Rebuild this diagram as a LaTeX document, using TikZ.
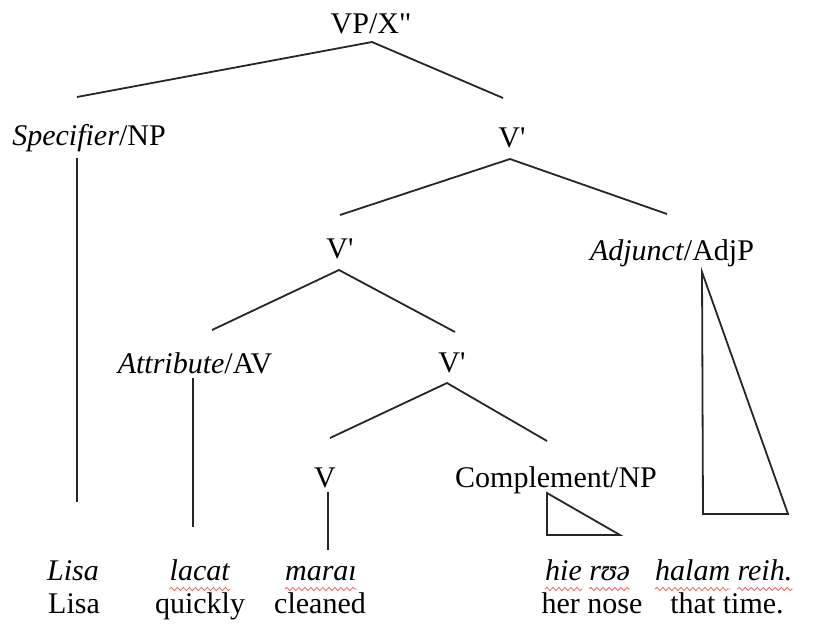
\documentclass[tikz,border=0pt]{standalone}
\usepackage{fontspec}
\newfontfamily\treefont{Liberation Serif}
\usetikzlibrary{positioning,decorations.pathmorphing}

\begin{document}
\begin{tikzpicture}[x=1pt, y=-1pt,
        every node/.style={font=\treefont\fontsize{30}{34}\selectfont, inner sep=0pt, anchor=base},
        branch/.style={line width=1.8pt, black!85},
        spell/.style={draw=red!65, line width=0.8pt, decorate,
            decoration={snake, amplitude=1.6pt, segment length=6pt}}]
        \useasboundingbox (0,0) rectangle (819,627);

        % Tree labels
        \node (vp) at (371,33) {VP/X"};
        \node (spec) at (89,145) {\textit{Specifier}/NP};
        \node (vbar1) at (512,147) {V'};
        \node (vbar2) at (340,258) {V'};
        \node (adj) at (672,260) {\textit{Adjunct}/AdjP};
        \node (attr) at (195,373) {\textit{Attribute}/AV};
        \node (vbar3) at (452,372) {V'};
        \node (v) at (325,487) {V};
        \node (compl) at (556,487) {Complement/NP};

        % Words, first line
        \node (lisa-it) at (73,580) {\textit{Lisa}};
        \node (lacat) at (200,580) {\textit{lacat}};
        \node (marai) at (321,580) {\textit{maraı}};
        \node[anchor=base west] (hie) at (545,580) {\textit{hie}};
        \node[anchor=base west] (rua) at ([xshift=7pt]hie.base east) {\textit{rʊə}};
        \node[anchor=base west] (halam) at (655,580) {\textit{halam}};
        \node[anchor=base west] (reih) at ([xshift=7pt]halam.base east) {\textit{reih.}};

        % Words, second line
        \node (lisa) at (74,613) {Lisa};
        \node (quickly) at (200,613) {quickly};
        \node (cleaned) at (320,613) {cleaned};
        \node (hernose) at (592,613) {her nose};
        \node (thattime) at (727,613) {that time.};

        % Branch points
        \coordinate (vp-b) at (372,42);
        \coordinate (spec-t) at (77,97);
        \coordinate (vbar1-t) at (503,98);
        \coordinate (spec-b) at (77,158);
        \coordinate (lisa-t) at (77,502);
        \coordinate (vbar1-b) at (510,159);
        \coordinate (vbar2-t) at (340,215);
        \coordinate (adj-t) at (667,214);
        \coordinate (vbar2-b) at (339,270);
        \coordinate (attr-t) at (212,330);
        \coordinate (vbar3-t) at (455,332);
        \coordinate (attr-b) at (193,378);
        \coordinate (lacat-t) at (193,527);
        \coordinate (vbar3-b) at (447,383);
        \coordinate (v-t) at (330,438);
        \coordinate (compl-t) at (547,441);
        \coordinate (v-b) at (328,492);
        \coordinate (marai-t) at (328,550);

        % Triangle corners
        \coordinate (adj-tip) at (702,272);
        \coordinate (adj-bl) at (703,514);
        \coordinate (adj-br) at (788,514);
        \coordinate (compl-tip) at (547,493);
        \coordinate (compl-bl) at (547,535);
        \coordinate (compl-br) at (620,535);

        % Branches
        \draw[branch] (spec-t) -- (vp-b) -- (vbar1-t);
        \draw[branch] (spec-b) -- (lisa-t);
        \draw[branch] (vbar2-t) -- (vbar1-b) -- (adj-t);
        \draw[branch] (attr-t) -- (vbar2-b) -- (vbar3-t);
        \draw[branch] (attr-b) -- (lacat-t);
        \draw[branch] (v-t) -- (vbar3-b) -- (compl-t);
        \draw[branch] (v-b) -- (marai-t);
        \draw[branch] (adj-tip) -- (adj-bl) -- (adj-br) -- cycle;
        \draw[branch] (compl-tip) -- (compl-bl) -- (compl-br) -- cycle;

        % Spelling marks
        \foreach \w in {lacat, marai, hie, rua, halam, reih}
            \draw[spell] ([yshift=-9pt]\w.base west) -- ([yshift=-9pt]\w.base east);
    \end{tikzpicture}
\end{document}
